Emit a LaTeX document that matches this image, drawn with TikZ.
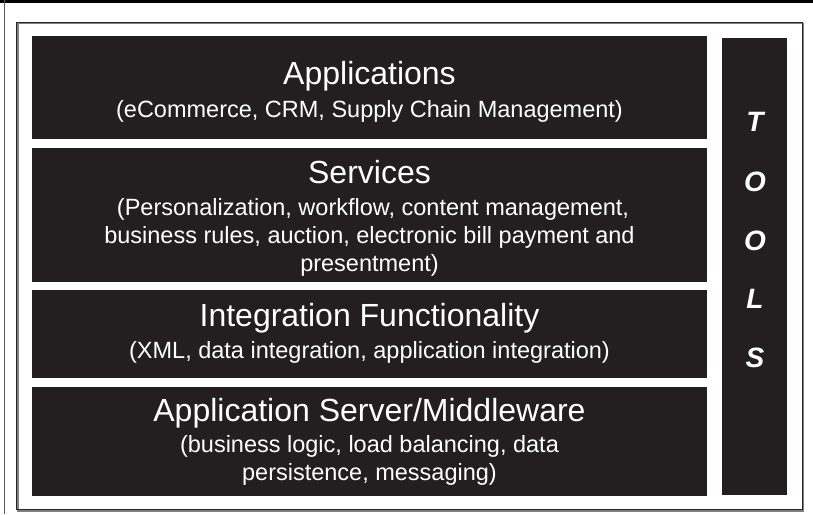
\documentclass[tikz,border=0pt]{standalone}
\usepackage{fontspec}
\setmainfont{Liberation Sans}
\definecolor{boxdark}{HTML}{231F20}
\definecolor{framegray}{HTML}{5A5A5A}
\begin{document}
\begin{tikzpicture}[x=1pt,y=-1pt,
  layerbox/.style={fill=boxdark,draw=none,inner sep=0pt,outer sep=0pt},
  titletext/.style={text=white,anchor=base,inner sep=0pt,font=\fontsize{32}{36}\selectfont},
  subtext/.style={text=white,anchor=base,inner sep=0pt,font=\fontsize{23.5}{28}\selectfont},
  tooltext/.style={text=white,anchor=base,inner sep=0pt,font=\fontsize{28}{30}\selectfont\bfseries\itshape}]
\useasboundingbox (0,0) rectangle (813,514);
\fill[white] (0,0) rectangle (813,514);
% outer frame remnants
\fill[black] (0,0) rectangle (813,3.3);
\draw[line width=1.2pt,framegray] (4.6,0) -- (4.6,514);
% inner frame with shadow
\draw[line width=1.6pt,gray] (18,23.5) rectangle (803.2,510.8);
\draw[line width=0.9pt,black!85] (16.5,22) rectangle (802,509.5);
% layer boxes
\node[layerbox,minimum width=675pt,minimum height=103pt] (app) at (369.5,87.5) {};
\node[layerbox,minimum width=675pt,minimum height=134pt] (svc) at (369.5,215) {};
\node[layerbox,minimum width=675pt,minimum height=88pt] (intg) at (369.5,334) {};
\node[layerbox,minimum width=675pt,minimum height=109pt] (srv) at (369.5,441.5) {};
\node[layerbox,minimum width=65pt,minimum height=457pt] (tools) at (754.5,266.5) {};
% texts
\node[titletext] (appT) at (369.5,84) {Applications};
\node[subtext] (appS) at (369.5,117) {(eCommerce, CRM, Supply Chain Management)};
\node[titletext] (svcT) at (369.5,183) {Services};
\node[subtext] (svcS1) at (373,215) {(Personalization, workflow, content management,};
\node[subtext] (svcS2) at (369.5,243) {business rules, auction, electronic bill payment and};
\node[subtext] (svcS3) at (369.5,271) {presentment)};
\node[titletext] (intgT) at (369.5,326) {Integration Functionality};
\node[subtext] (intgS) at (369.5,358) {(XML, data integration, application integration)};
\node[titletext] (srvT) at (369.5,421) {Application Server/Middleware};
\node[subtext] (srvS1) at (369.5,452) {(business logic, load balancing, data};
\node[subtext] (srvS2) at (369.5,480) {persistence, messaging)};
\node[tooltext] (t1) at (755,131) {T};
\node[tooltext] (t2) at (755,191) {O};
\node[tooltext] (t3) at (755,250) {O};
\node[tooltext] (t4) at (755,308) {L};
\node[tooltext] (t5) at (755,367) {S};
\end{tikzpicture}
\end{document}
